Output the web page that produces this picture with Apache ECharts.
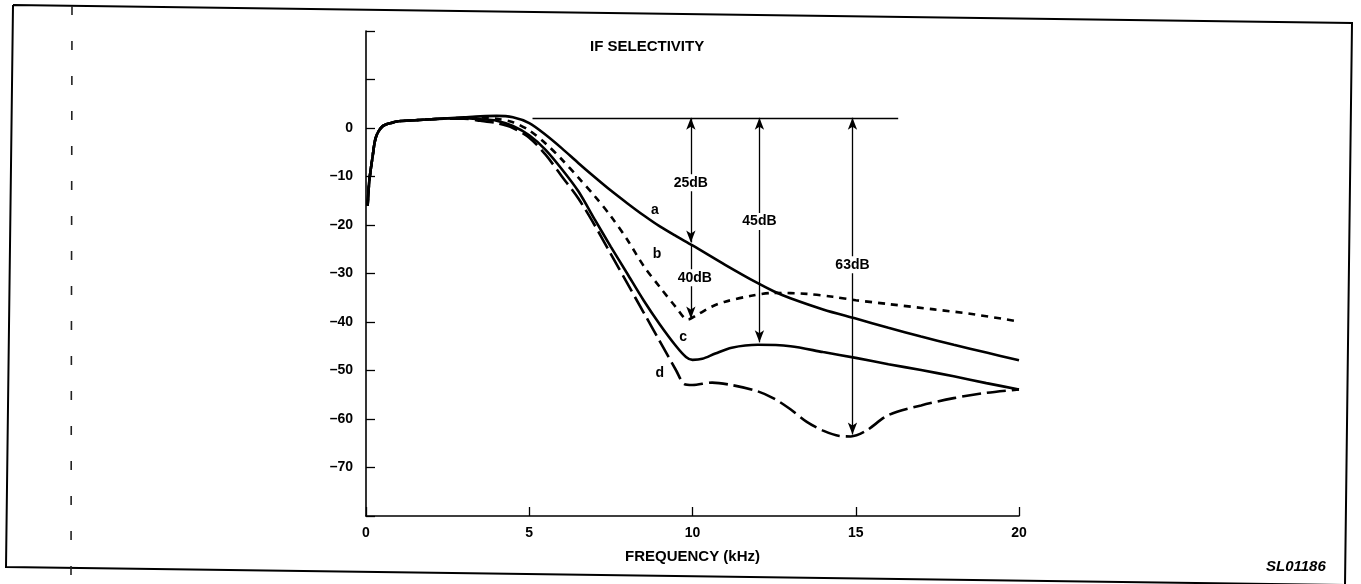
<!DOCTYPE html>
<html>
<head>
<meta charset="utf-8">
<title>IF Selectivity</title>
<script src="https://cdn.jsdelivr.net/npm/echarts@6/dist/echarts.min.js"></script>
<style>
  html, body { margin: 0; padding: 0; background: #fff; }
  #chart { width: 1361px; height: 584px; }
</style>
</head>
<body>
<div id="chart"></div>
<script>
// IF selectivity: attenuation (dB) vs. frequency (kHz) for four filter options a–d.

// Curve a (solid)
const freqA = [0.05, 0.1, 0.2, 0.3, 0.5, 0.8, 1, 1.5, 2, 2.5, 3, 3.5, 4, 4.5, 5, 5.5, 6, 6.5, 7, 7.5, 8, 8.5, 9, 9.5, 10, 11, 12, 12.5, 13, 14, 15, 16, 17, 18, 19, 20];
const dbA   = [-16, -11, -6, -2, 0.3, 1.1, 1.4, 1.6, 1.8, 2.0, 2.2, 2.4, 2.5, 2.2, 1.0, -1.4, -4.2, -7.2, -10.1, -12.9, -15.5, -18.0, -20.3, -22.3, -24.2, -28.2, -32.0, -33.7, -35.1, -37.4, -39.3, -41.2, -43.0, -44.7, -46.3, -47.9];

// Curve b (short dashes)
const freqB = [0.05, 0.1, 0.2, 0.3, 0.5, 0.8, 1, 1.5, 2, 2.5, 3, 3.5, 4, 4.5, 5, 5.5, 6, 6.5, 7, 7.5, 8, 8.5, 9, 9.5, 9.85, 10.2, 10.6, 11, 11.8, 12.5, 13.5, 14.3, 15, 16, 17.4, 18.5, 20];
const dbB   = [-16, -11, -6, -2, 0.3, 1.1, 1.4, 1.6, 1.8, 2.0, 2.1, 2.2, 1.9, 1.2, -0.5, -3.2, -6.5, -10.2, -14.0, -18.2, -23.0, -28.4, -32.8, -37.0, -39.5, -38.3, -36.8, -35.8, -34.6, -34.0, -34.2, -34.8, -35.5, -36.3, -37.4, -38.3, -39.9];

// Curve c (solid)
const freqC = [0.05, 0.1, 0.2, 0.3, 0.5, 0.8, 1, 1.5, 2, 2.5, 3, 3.5, 4, 4.5, 5, 5.5, 6, 6.5, 7, 7.5, 8, 8.5, 9, 9.5, 9.8, 10, 10.3, 10.7, 11.2, 12, 13, 14, 15, 16, 17, 18, 19, 20];
const dbC   = [-16, -11, -6, -2, 0.3, 1.1, 1.4, 1.6, 1.8, 2.0, 2.0, 1.8, 1.5, 0.4, -1.5, -4.5, -8.5, -13.0, -18.8, -24.5, -30.0, -35.5, -40.5, -45.0, -47.2, -47.8, -47.6, -46.5, -45.3, -44.7, -45.0, -46.2, -47.4, -48.7, -49.9, -51.2, -52.6, -53.9];

// Curve d (long dashes)
const freqD = [0.05, 0.1, 0.2, 0.3, 0.5, 0.8, 1, 1.5, 2, 2.5, 3, 3.5, 4, 4.5, 5, 5.5, 6, 6.5, 7, 7.5, 8, 8.5, 9, 9.5, 9.75, 10, 10.6, 11.2, 12, 12.5, 13, 13.5, 14, 14.5, 14.85, 15.3, 16, 17, 18, 19, 20];
const dbD   = [-16, -11, -6, -2, 0.3, 1.1, 1.4, 1.6, 1.8, 1.9, 1.9, 1.5, 1.0, 0.0, -2.0, -5.5, -10.0, -14.5, -20.0, -26.0, -32.0, -38.0, -44.0, -50.0, -52.8, -53.0, -52.5, -53.0, -54.3, -55.8, -58.0, -60.6, -62.4, -63.5, -63.6, -62.5, -59.2, -57.2, -55.7, -54.6, -53.9];

// Axis ticks
const xTickValues = [0, 5, 10, 15, 20];
const yTickLabels = [0, -10, -20, -30, -40, -50, -60, -70];

// Reference level and attenuation markers
const refLevel = 2.1;
const refSpan = [5.1, 16.3];
const attenuation = [
  { f: 9.95,  to: -23.6, text: '25dB', labelAt: -11.3 },
  { f: 12.05, to: -44.2, text: '45dB', labelAt: -19.3 },
  { f: 14.9,  to: -63.2, text: '63dB', labelAt: -28.2 }
];
// Second arrow at 10 kHz, from curve a down to the notch of curve b
const notchB = { f: 9.95, from: -24.0, to: -39.3, text: '40dB', labelAt: -30.9 };

// Curve letters: [name, frequency, dB]
const curveTags = [['a', 8.85, -16.9], ['b', 8.91, -26.1], ['c', 9.71, -43.2], ['d', 9.0, -50.6]];

const FONT = '"Liberation Sans", Arial, Helvetica, sans-serif';
const INK = '#000';

function pairs(xs, ys) { return xs.map((x, i) => [x, ys[i]]); }
function minusLabel(v) { return v < 0 ? '\u2013' + Math.abs(v) : String(v); }

function curve(name, xs, ys, dash) {
  return {
    name, type: 'line', z: 3,
    data: pairs(xs, ys),
    showSymbol: false, symbol: 'none',
    smooth: 0.3,
    silent: true,
    lineStyle: { color: INK, width: 2.6, type: dash || 'solid', cap: 'butt' }
  };
}

const arrowEnd = { symbol: 'arrow', symbolSize: [7, 12] };

const markLines = [
  [{ coord: [refSpan[0], refLevel], symbol: 'none' }, { coord: [refSpan[1], refLevel], symbol: 'none' }],
  ...attenuation.map(a => [
    Object.assign({ coord: [a.f, refLevel] }, arrowEnd),
    Object.assign({ coord: [a.f, a.to] }, arrowEnd)
  ]),
  [{ coord: [notchB.f, notchB.from], symbol: 'none' }, Object.assign({ coord: [notchB.f, notchB.to] }, arrowEnd)]
];

const chart = echarts.init(document.getElementById('chart'), null, { renderer: 'canvas' });

chart.setOption({
  animation: false,
  backgroundColor: '#fff',
  textStyle: { fontFamily: FONT },
  title: {
    text: 'IF SELECTIVITY',
    left: 590, top: 39, padding: 0,
    textStyle: { fontSize: 15, fontWeight: 'bold', color: INK, fontFamily: FONT }
  },
  grid: { left: 366, right: 342, top: 31, bottom: 68, containLabel: false },
  xAxis: {
    type: 'value', min: xTickValues[0], max: xTickValues[xTickValues.length - 1], interval: 5,
    name: 'FREQUENCY (kHz)', nameLocation: 'middle', nameGap: 33,
    nameTextStyle: { fontSize: 15, fontWeight: 'bold', color: INK, fontFamily: FONT },
    axisLine: { show: true, onZero: false, lineStyle: { color: INK, width: 1.6 } },
    axisTick: { show: true, inside: true, length: 9, lineStyle: { color: INK, width: 1.3 } },
    axisLabel: { margin: 10, color: INK, fontSize: 14, fontWeight: 'bold', fontFamily: FONT,
      formatter: v => xTickValues.includes(v) ? String(v) : '' },
    splitLine: { show: false }
  },
  yAxis: {
    type: 'value', min: -80, max: 20, interval: 10,
    axisLine: { show: true, onZero: false, lineStyle: { color: INK, width: 1.6 } },
    axisTick: { show: true, inside: true, length: 9, lineStyle: { color: INK, width: 1.3 } },
    axisLabel: { margin: 13, color: INK, fontSize: 14, fontWeight: 'bold', fontFamily: FONT,
      formatter: v => yTickLabels.includes(v) ? minusLabel(v) : '' },
    splitLine: { show: false }
  },
  series: [
    curve('a', freqA, dbA),
    curve('b', freqB, dbB, [7, 6]),
    curve('c', freqC, dbC),
    curve('d', freqD, dbD, [19, 6]),
    {
      name: 'markers', type: 'line', data: [], z: 4, silent: true,
      markLine: {
        silent: true, animation: false,
        symbol: ['none', 'none'],
        label: { show: false },
        lineStyle: { color: INK, width: 1.3, type: 'solid' },
        emphasis: { disabled: true },
        data: markLines
      }
    },
    {
      name: 'labels', type: 'line', data: [], z: 6, silent: true,
      markPoint: {
        silent: true, animation: false,
        symbol: 'rect', symbolSize: [42, 17],
        itemStyle: { color: '#fff' },
        label: { show: true, position: 'inside', formatter: '{b}', color: INK,
          fontSize: 14, fontWeight: 'bold', fontFamily: FONT },
        data: [
          ...attenuation.map(a => ({ name: a.text, coord: [a.f, a.labelAt] })),
          { name: notchB.text, coord: [notchB.f + 0.12, notchB.labelAt] },
          ...curveTags.map(t => ({ name: t[0], coord: [t[1], t[2]], symbolSize: [1, 1],
            itemStyle: { color: 'rgba(0,0,0,0)' } }))
        ]
      }
    }
  ],
  graphic: [
    // sheet border
    { type: 'polyline', silent: true, z: 10,
      shape: { points: [[13, 5], [1352, 23], [1345, 585], [6, 567], [13, 5]] },
      style: { stroke: INK, lineWidth: 2, fill: null } },
    // binding marks along the left margin
    { type: 'line', silent: true, z: 10,
      shape: { x1: 72, y1: 6, x2: 71, y2: 575 },
      style: { stroke: '#222', lineWidth: 1.6, lineDash: [9, 26] } },
    // drawing number
    { type: 'text', silent: true, z: 10, left: 1266, top: 559,
      style: { text: 'SL01186', fill: INK, font: 'italic bold 15px ' + FONT } }
  ]
});
</script>
</body>
</html>
